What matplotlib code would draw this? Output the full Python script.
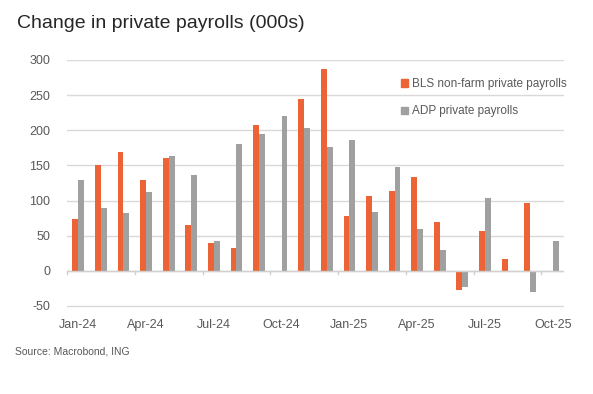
import numpy as np
import matplotlib.pyplot as plt
from matplotlib.patches import Patch

months = ["Jan-24", "Feb-24", "Mar-24", "Apr-24", "May-24", "Jun-24", "Jul-24", "Aug-24",
          "Sep-24", "Oct-24", "Nov-24", "Dec-24", "Jan-25", "Feb-25", "Mar-25", "Apr-25",
          "May-25", "Jun-25", "Jul-25", "Aug-25", "Sep-25", "Oct-25"]
bls = [73, 150, 169, 129, 160, 65, 39, 32, 208, -2, 244, 287,
       78, 107, 114, 133, 69, -28, 56, 17, 96, np.nan]
adp = [129, 90, 82, 112, 163, 136, 42, 180, 194, 221, 203, 176,
       186, 83, 147, 60, 29, -23, 103, -2, -30, 42]

orange = "#EC6436"
grey = "#A0A0A0"
txt = "#595959"
plt.rcParams['font.family'] = ['Liberation Sans', 'DejaVu Sans']
plt.rcParams['axes.unicode_minus'] = False

fig = plt.figure(figsize=(5.93, 3.94), dpi=100)
ax = fig.add_axes([67 / 593, 1 - 308 / 394, (564 - 67) / 593, (308 - 60) / 394])

x = np.arange(len(months))
w = 0.26
ax.bar(x - w / 2, bls, width=w, color=orange, label="BLS non-farm private payrolls")
ax.bar(x + w / 2, adp, width=w, color=grey, label="ADP private payrolls")

ax.set_xlim(-0.5, len(months) - 0.5)
ax.set_ylim(-53, 300)
ax.set_yticks(range(-50, 301, 50))
ax.yaxis.grid(True, color="#d9d9d9", lw=1)
ax.set_axisbelow(True)
for s in ax.spines.values():
    s.set_visible(False)
ax.axhline(0, color="#d0d0d0", lw=1, zorder=1)

ax.set_xticks(x[::3])
ax.set_xticklabels(months[::3])
ax.tick_params(axis="x", length=0, pad=8, labelsize=9, labelcolor=txt)
ax.tick_params(axis="y", length=0, labelsize=9, labelcolor=txt, pad=12)
for t in x[::3] - 0.5:
    ax.plot([t, t], [0, -4], color="#d0d0d0", lw=1, clip_on=False)

handles = [Patch(color=orange), Patch(color=grey)]
ax.legend(handles, ["BLS non-farm private payrolls", "ADP private payrolls"],
          loc="upper left", bbox_to_anchor=(0.65, 0.97), frameon=False,
          fontsize=8.5, labelcolor=txt, handlelength=0.6, handleheight=0.6,
          handletextpad=0.4, labelspacing=1.3)

fig.text(17 / 593, 1 - 24 / 394, "Change in private payrolls (000s)", fontsize=14,
         color="#262626", va="center")
fig.text(15 / 593, 1 - 352 / 394, "Source: Macrobond, ING", fontsize=7.5,
         color="#595959", va="center")

fig.savefig("out.png", dpi=100)
